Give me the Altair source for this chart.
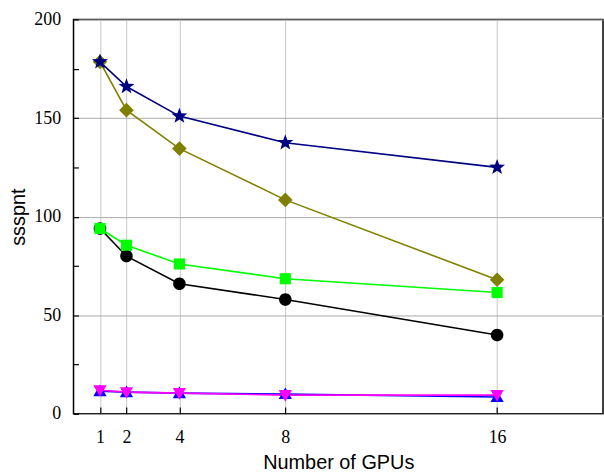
import math
import altair as alt
import pandas as pd

# ---- data ----
gpus = [1, 2, 4, 8, 16]
series_names = ["NewRiver Strong", "NewRiver Weak", "HokieSpeed Strong",
                "HokieSpeed Weak", "Cascades Strong", "Cascades Weak"]
newriver_strong = [94, 80, 66, 58, 40]
newriver_weak = [94, 85.5, 76, 68.5, 61.5]
hokiespeed_strong = [11.5, 11, 10.5, 10, 8.5]
hokiespeed_weak = [12, 11, 10.5, 9.5, 9.5]
cascades_strong = [178.5, 154, 134.5, 108.5, 68]
cascades_weak = [178.5, 166, 151, 137.5, 125]
y_tick_values = [0, 25, 50, 75, 100, 125, 150, 175, 200]

colors = ["#000000", "#00ff00", "#0000ff", "#ff00ff", "#808000", "#000080"]

all_values = [newriver_strong, newriver_weak, hokiespeed_strong,
              hokiespeed_weak, cascades_strong, cascades_weak]
rows = []
for name, vals in zip(series_names, all_values):
    for g, v in zip(gpus, vals):
        rows.append({"series": name, "gpus": g, "value": v})
df = pd.DataFrame(rows)

# ---- marker shapes (unit paths) ----
def star_path(R=1.2, r=0.5):
    pts = []
    for k in range(10):
        ang = math.radians(-90 + 36 * k)
        rad = R if k % 2 == 0 else r
        pts.append((rad * math.cos(ang), rad * math.sin(ang)))
    return "M" + "L".join(f"{x:.3f},{y:.3f}" for x, y in pts) + "Z"

marker_paths = [
    "M-0.9,0A0.9,0.9,0,1,0,0.9,0A0.9,0.9,0,1,0,-0.9,0Z",
    "M-0.8,-0.8H0.8V0.8H-0.8Z",
    "M0,-0.95L0.95,0.72L-0.95,0.72Z",
    "M0,0.95L0.95,-0.72L-0.95,-0.72Z",
    "M0,-1.05L1.05,0L0,1.05L-1.05,0Z",
    star_path(),
]
legend_paths = ["M-3,0H3" + p for p in marker_paths]

FONT_SANS = "Liberation Sans"
FONT_SERIF = "Liberation Serif"

x_scale = alt.Scale(domain=[0, 20], nice=False, zero=False)
y_scale = alt.Scale(domain=[0, 200], nice=False)

x_axis = alt.Axis(values=gpus, format="d", title="Number of GPUs",
                  grid=True, gridColor="#c8c8c8", gridWidth=1,
                  domain=False, offset=-7, tickSize=7, tickColor="black",
                  tickWidth=1.2,
                  labelFont=FONT_SERIF, labelFontSize=18, labelColor="black",
                  labelPadding=15, titleFont=FONT_SANS, titleFontSize=20,
                  titleFontWeight="normal", titleColor="black", titlePadding=6)
y_axis = alt.Axis(values=y_tick_values, format="d", title="ssspnt",
                  labelExpr="datum.value % 50 == 0 ? datum.label : ''",
                  grid=True, gridColor="#aaaaaa", gridWidth=1,
                  gridOpacity={"condition": {"test": "datum.value % 50 === 0",
                                             "value": 1}, "value": 0},
                  domain=False, offset=-5, tickSize=5, tickColor="black",
                  tickWidth=1.2,
                  labelFont=FONT_SERIF, labelFontSize=18, labelColor="black",
                  labelPadding=13, titleFont=FONT_SANS, titleFontSize=20,
                  titleFontWeight="normal", titleColor="black", titlePadding=5)

X = alt.X("gpus:Q", scale=x_scale, axis=x_axis)
Y = alt.Y("value:Q", scale=y_scale, axis=y_axis)

base = alt.Chart(df)

lines = base.mark_line(strokeWidth=1.6).encode(
    x=X, y=Y,
    color=alt.Color("series:N", scale=alt.Scale(domain=series_names, range=colors),
                    legend=None),
)

# markers, one layer per series so each has its own shape
point_layers = []
for name, col, path in zip(series_names, colors, marker_paths):
    point_layers.append(
        base.transform_filter(alt.datum.series == name)
        .mark_point(filled=True, opacity=1, size=196, shape=path, color=col,
                    strokeWidth=0)
        .encode(x=X, y=Y)
    )

legend_def = alt.Legend(title=None, orient="top-right", offset=2,
                        labelFont=FONT_SANS, labelFontSize=18, labelColor="black",
                        labelOffset=19, symbolSize=196, symbolStrokeWidth=1.5,
                        symbolOpacity=1, rowPadding=4)

# invisible layer that only carries the legend (line + marker symbols)
legend_layer = base.mark_point(filled=True, opacity=0, size=196).encode(
    x=X, y=Y,
    fill=alt.Fill("series:N", scale=alt.Scale(domain=series_names, range=colors),
                  legend=legend_def),
    stroke=alt.Stroke("series:N", scale=alt.Scale(domain=series_names, range=colors),
                      legend=legend_def),
    shape=alt.Shape("series:N", scale=alt.Scale(domain=series_names, range=legend_paths),
                    legend=legend_def),
)

chart = alt.layer(lines, *point_layers, legend_layer).properties(
    width=533, height=397,
    padding={"left": 9, "top": 9, "right": 1, "bottom": 2},
    background="white",
).configure_view(stroke="black", strokeWidth=1.5)

chart.save("out.html", embed_options={"renderer": "svg", "actions": False})
